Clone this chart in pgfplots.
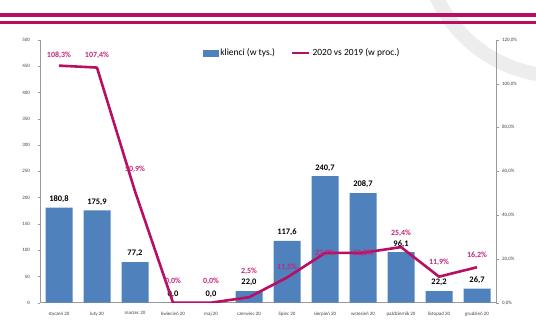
\documentclass[border=0pt]{standalone}
\usepackage{pgfplots}
\pgfplotsset{compat=1.18}
\usepackage{fontspec}
\setmainfont{Carlito}
\definecolor{barblue}{HTML}{4F81BD}
\definecolor{mag}{HTML}{B80F62}
\definecolor{maglab}{HTML}{C2267A}
\definecolor{axgray}{HTML}{9A9A9A}

\pgfplotstableread{
x y lab
0 180.8 180,8
1 175.9 175,9
2 77.2 77,2
3 0.0 0,0
4 0.0 0,0
5 22.0 22,0
6 117.6 117,6
7 240.7 240,7
8 208.7 208,7
9 96.1 96,1
10 22.2 22,2
11 26.7 26,7
}\klienci

\pgfplotstableread{
x y lab dy
0 108.3 108,3 10
1 107.4 107,4 12
2 50.9 50,9 22
3 0.0 0,0 21
4 0.0 0,0 21
5 2.5 2,5 26
6 11.5 11,5 10
7 22.7 22,7 0
8 22.8 22,8 0
9 25.4 25,4 14
10 11.9 11,9 14
11 16.2 16,2 12
}\proc

\begin{document}
\begin{tikzpicture}[x=1bp,y=1bp]
\path[use as bounding box] (0,0) rectangle (536,332);
\begin{scope}
\clip (0,0) rectangle (536,332);
\draw[black!7, line width=14bp] (560,392) circle (136);
\fill[mag] (0,314.7) rectangle (536,319.3);
\fill[mag] (0,308) rectangle (536,311.3);
\end{scope}

\begin{axis}[
  at={(40bp,29.3bp)}, anchor=south west,
  scale only axis, width=456bp, height=262.7bp,
  xmin=-0.5, xmax=11.5, ymin=0, ymax=500,
  scaled y ticks=false,
  axis y line*=left, axis x line*=bottom,
  axis line style={axgray, line width=0.5pt, -},
  tick style={axgray, line width=0.4pt},
  tick align=outside, major tick length=2.5bp,
  ytick={0,50,100,150,200,250,300,350,400,450,500},
  yticklabels={0,50,100,150,200,250,300,350,400,450,500},
  xtick={0,...,11},
  xticklabels={styczeń 20, luty 20, marzec 20, kwiecień 20, maj 20, czerwiec 20, lipiec 20, sierpień 20, wrzesień 20, październik 20, listopad 20, grudzień 20},
  x tick style={draw=none},
  extra x ticks={-0.5,0.5,...,11.5},
  extra x tick labels={},
  extra x tick style={tick style={axgray, line width=0.4pt, draw=axgray}, major tick length=2.5bp},
  x tick label style={font=\fontsize{5}{6}\selectfont, text=black!75, yshift=-3bp},
  y tick label style={font=\fontsize{5}{6}\selectfont, text=black!75, xshift=-4bp},
  ybar, bar width=27bp,
  nodes near coords, point meta=explicit symbolic,
  every node near coord/.append style={font=\fontsize{8.5}{10}\selectfont\bfseries, text=black, yshift=1.5bp},
]
\addplot[fill=barblue, draw=none] table[x=x, y=y, meta=lab] {\klienci};
\end{axis}

\begin{axis}[
  at={(40bp,29.3bp)}, anchor=south west,
  scale only axis, width=456bp, height=262.7bp,
  xmin=-0.5, xmax=11.5, ymin=0, ymax=120,
  axis y line*=right, axis x line=none,
  axis line style={axgray, line width=0.5pt, -},
  tick style={axgray, line width=0.4pt},
  tick align=outside, major tick length=2.5bp,
  ytick={0,20,...,120},
  yticklabels={{0,0\%},{20,0\%},{40,0\%},{60,0\%},{80,0\%},{100,0\%},{120,0\%}},
  y tick label style={font=\fontsize{5}{6}\selectfont, text=black!75},
  legend style={at={(0.575,0.95)}, anchor=center, draw=none, fill=none,
    legend columns=2, font=\fontsize{9.5}{11}\selectfont,
    /tikz/every even column/.append style={column sep=14bp}},
  legend cell align=left,
]
\addlegendimage{legend image code/.code={\fill[barblue] (0bp,-3bp) rectangle (15bp,3bp);}}
\addlegendentry{klienci (w tys.)}
\addplot[mag, line width=2.6bp, line join=round,
  nodes near coords={\pgfplotspointmeta\%},
  point meta=explicit symbolic,
  visualization depends on={\thisrow{dy} \as \dy},
  every node near coord/.append style={font=\fontsize{8}{9}\selectfont\bfseries, text=maglab, anchor=center, yshift=\dy bp},
  legend image code/.code={\draw[mag, line width=2.6bp] (0bp,0bp) -- (17bp,0bp);}
] table[x=x, y=y, meta=lab] {\proc};
\addlegendentry{2020 vs 2019 (w proc.)}
\end{axis}
\end{tikzpicture}
\end{document}
